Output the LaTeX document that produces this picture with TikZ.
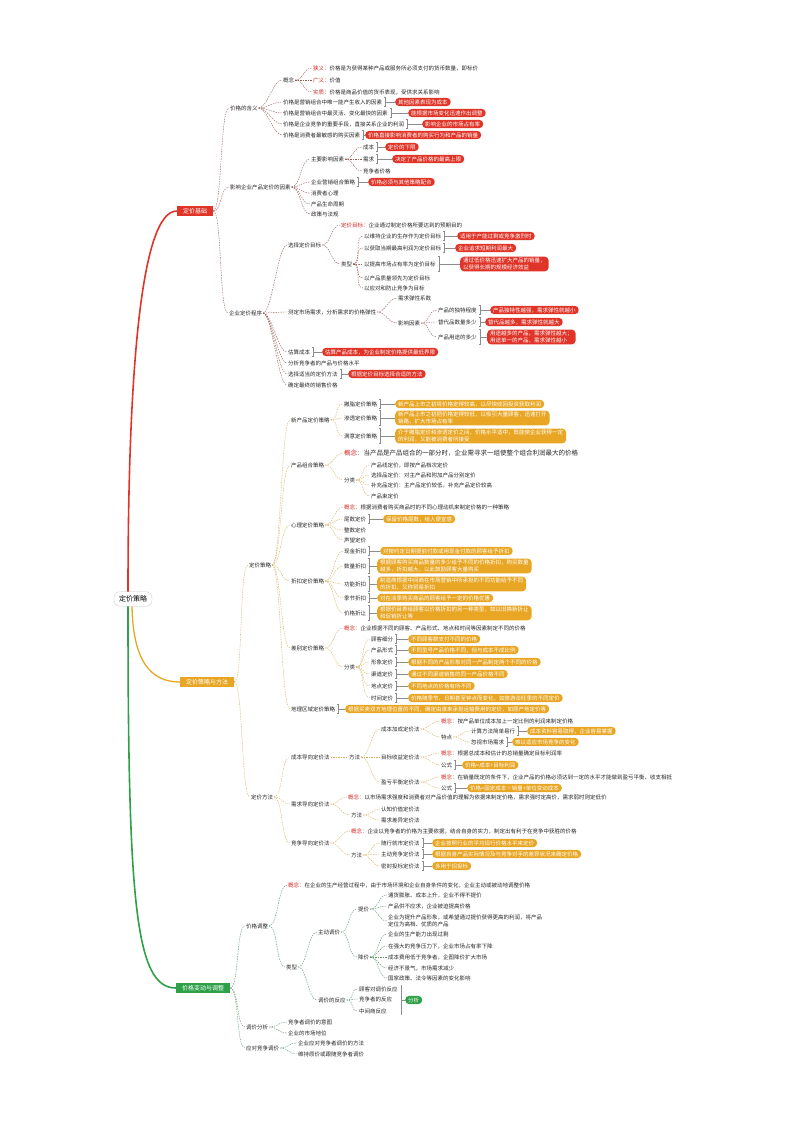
\documentclass[tikz,border=0pt]{standalone}
\usepackage{fontspec}
\setmainfont{Noto Sans CJK SC}
\usepackage{tikz}
\usetikzlibrary{arrows}
\definecolor{redc}{RGB}{224,52,40}
\definecolor{orc}{RGB}{232,166,36}
\definecolor{grc}{RGB}{46,160,72}
\definecolor{conc}{RGB}{215,35,30}
\definecolor{rline}{RGB}{150,92,82}
\definecolor{oline}{RGB}{214,176,98}
\definecolor{gline}{RGB}{96,150,108}
\newcommand{\redlab}[1]{\textcolor{conc}{#1}}

\begin{document}
\begin{tikzpicture}[x=1pt,y=-1pt,
  every node/.style={font=\fontsize{5.5}{6.4}\selectfont},
  txt/.style={anchor=west,inner sep=0.8pt,text=black!85,align=left},
  rpill/.style={anchor=west,fill=redc,text=white,rounded corners=4pt,inner xsep=3pt,inner ysep=1.6pt,align=left},
  opill/.style={rpill,fill=orc},
  gpill/.style={rpill,fill=grc},
  rootbox/.style={draw=black!20,fill=white,rounded corners=6pt,inner xsep=5pt,inner ysep=4pt,font=\fontsize{7}{8}\selectfont},
  mainbox/.style={text=white,inner xsep=6pt,inner ysep=2.5pt,font=\fontsize{6}{7}\selectfont},
  lnkr/.style={draw=rline,line width=0.4pt,dash pattern=on 1.5pt off 1pt},
  lnko/.style={lnkr,draw=oline},
  lnkg/.style={lnkr,draw=gline},
  brk/.style={draw=black!45,line width=0.35pt}]

\useasboundingbox (0,0) rectangle (794,1122);

% root and main branches
\node[rootbox] (root) at (133,599) {定价策略};
\node[mainbox,fill=redc] (jc) at (195,211) {定价基础};
\node[mainbox,fill=orc] (cl) at (207,682) {定价策略与方法};
\node[mainbox,fill=grc] (td) at (203,988) {价格变动与调整};
\draw[redc,line width=1.6pt] ([xshift=-5pt]root.north) .. controls (128,380) and (140,211) .. (jc.west);
\draw[orc,line width=1.3pt] ([xshift=-1pt]root.south) .. controls (133,660) and (150,682) .. (cl.west);
\draw[grc,line width=1.6pt] ([xshift=-5pt]root.south) .. controls (128,900) and (135,988) .. (td.west);

% red branch
\foreach \n/\x/\y/\words in {
  hy/229/108/{价格的含义}, ys/229/187/{影响企业产品定价的因素}, cx/228/313/{企业定价程序},
  hy1/282/80/{概念},
  hy11/312/68/{\redlab{狭义：}价格是为获得某种产品或服务所必须支付的货币数量，即标价},
  hy12/312/80/{\redlab{广义：}价值},
  hy13/312/92/{\redlab{实质：}价格是商品价值的货币表现，受供求关系影响},
  hy2/282/102/{价格是营销组合中唯一能产生收入的因素},
  hy3/282/113/{价格是营销组合中最灵活、变化最快的因素},
  hy4/282/124/{价格是企业竞争的重要手段，直接关系企业的利润},
  hy5/282/135/{价格是消费者最敏感的购买因素},
  ys1/310/159/{主要影响因素}, ys11/362/147/{成本}, ys12/362/159/{需求}, ys13/362/171/{竞争者价格},
  ys2/310/182/{企业营销组合策略}, ys3/310/193/{消费者心理}, ys4/310/204/{产品生命周期}, ys5/310/214/{政策与法规},
  cx1/287/245/{选择定价目标},
  cx11/340/225/{\redlab{定价目标：}企业通过制定价格所要达到的预期目的},
  cx12/340/264/{类型},
  cx121/363/236/{以维持企业的生存作为定价目标}, cx122/363/248/{以获取当期最高利润为定价目标},
  cx123/363/264/{以提高市场占有率为定价目标}, cx124/363/278/{以产品质量领先为定价目标},
  cx125/363/288/{以应对和防止竞争为目标},
  cx2/287/312/{测定市场需求，分析需求的价格弹性},
  cx21/397/298/{需求弹性系数}, cx22/397/323/{影响因素},
  cx221/437/310/{产品的独特程度}, cx222/437/322/{替代品数量多少}, cx223/437/337/{产品用途的多少},
  cx3/287/352/{估算成本}, cx4/287/363/{分析竞争者的产品与价格水平},
  cx5/287/374/{选择适当的定价方法}, cx6/287/385/{确定最终的销售价格}}
  \node[txt] (\n) at (\x,\y) {\words};

\foreach \n/\x/\y/\words in {
  hp2/395/102/{其他因素表现为成本}, hp3/408/113/{能根据市场变化迅速作出调整},
  hp4/422/124/{影响企业的市场占有率}, hp5/365/135/{价格直接影响消费者的购买行为和产品的销量},
  yp11/385/147/{定价的下限}, yp12/392/159/{决定了产品价格的最高上限}, yp2/368/182/{价格必须与其他策略配合},
  cp121/457/236/{适用于产能过剩或竞争激烈时}, cp122/455/248/{企业追求短期利润最大},
  cp123/460/264/{通过低价格迅速扩大产品的销量，\\以获得长期的规模经济效益},
  cp221/490/310/{产品独特性越强，需求弹性就越小}, cp222/485/322/{替代品越多，需求弹性就越大},
  cp223/487/337/{用途越多的产品，需求弹性越大；\\用途单一的产品，需求弹性越小},
  cp3/322/352/{估算产品成本，为企业制定价格提供最低界限}, cp5/348/374/{根据定价目标选择合适的方法}}
  \node[rpill] (\n) at (\x,\y) {\words};

\foreach \a/\b in {jc/hy, jc/ys, jc/cx, hy/hy1, hy/hy2, hy/hy3, hy/hy4, hy/hy5, hy1/hy11, hy1/hy12, hy1/hy13,
  ys/ys1, ys/ys2, ys/ys3, ys/ys4, ys/ys5, ys1/ys11, ys1/ys12, ys1/ys13,
  cx/cx1, cx/cx2, cx/cx3, cx/cx4, cx/cx5, cx/cx6, cx1/cx11, cx1/cx12,
  cx12/cx121, cx12/cx122, cx12/cx123, cx12/cx124, cx12/cx125,
  cx2/cx21, cx2/cx22, cx22/cx221, cx22/cx222, cx22/cx223}
  \draw[lnkr] (\a.east) .. controls +(9,0) and +(-9,0) .. (\b.west);

% orange branch
\foreach \n/\x/\y/\words in {
  dc/248/565/{定价策略}, ff/250/797/{定价方法},
  xp/290/420/{新产品定价策略}, xp1/343/404/{撇脂定价策略}, xp2/343/418/{渗透定价策略}, xp3/343/436/{满意定价策略},
  zh/290/465/{产品组合策略}, zh2/343/480/{分类},
  zh21/370/465/{产品线定价，即按产品档次定价}, zh22/370/475/{选择品定价：对主产品和附加产品分别定价},
  zh23/370/485/{补充品定价：主产品定价较低，补充产品定价较高}, zh24/370/496/{产品束定价},
  xl/290/525/{心理定价策略},
  xl1/343/507/{\redlab{概念：}根据消费者购买商品时的不同心理动机来制定价格的一种策略},
  xl2/343/519/{尾数定价}, xl3/343/530/{整数定价}, xl4/343/540/{声望定价},
  zk/290/581/{折扣定价策略}, zk1/343/551/{现金折扣}, zk2/343/566/{数量折扣}, zk3/343/584/{功能折扣},
  zk4/343/598/{季节折扣}, zk5/343/613/{价格折让},
  cb/290/648/{差别定价策略},
  cb1/343/628/{\redlab{概念：}企业根据不同的顾客、产品形式、地点和时间等因素制定不同的价格},
  cb2/343/667/{分类}, cb21/370/639/{顾客细分}, cb22/370/650/{产品形式}, cb23/370/662/{形象定价},
  cb24/370/674/{渠道定价}, cb25/370/686/{地点定价}, cb26/370/698/{时间定价},
  dl/290/709/{地理区域定价策略},
  cd/290/757/{成本导向定价法}, cdf/348/757/{方法}, cd1/380/729/{成本加成定价法},
  cd11/440/721/{\redlab{概念：}按产品单位成本加上一定比例的利润来制定价格},
  cd12/440/737/{特点}, cd121/470/731/{计算方法简单易行}, cd122/470/742/{忽视市场需求},
  cd2/380/757/{目标收益定价法},
  cd21/440/753/{\redlab{概念：}根据总成本和估计的总销量确定目标利润率}, cd22/440/765/{公式},
  cd3/380/782/{盈亏平衡定价法},
  cd31/440/777/{\redlab{概念：}在销量既定的条件下，企业产品的价格必须达到一定的水平才能做到盈亏平衡、收支相抵},
  cd32/440/788/{公式},
  xq/290/804/{需求导向定价法},
  xq1/347/797/{\redlab{概念：}以市场需求强度和消费者对产品价值的理解为依据来制定价格，需求强时定高价，需求弱时则定低价},
  xq2/350/815/{方法}, xq21/380/809/{认知价值定价法}, xq22/380/820/{需求差异定价法},
  jz/290/843/{竞争导向定价法},
  jz1/350/831/{\redlab{概念：}企业以竞争者的价格为主要依据，结合自身的实力，制定出有利于在竞争中获胜的价格},
  jz2/350/855/{方法}, jz21/380/843/{随行就市定价法}, jz22/380/854/{主动竞争定价法}, jz23/380/866/{密封投标定价法}}
  \node[txt] (\n) at (\x,\y) {\words};
\node[txt,font=\fontsize{6.5}{7.5}\selectfont] (zh1) at (343,453) {\redlab{概念：}当产品是产品组合的一部分时，企业需寻求一组使整个组合利润最大的价格};

\foreach \n/\x/\y/\words in {
  xpp1/395/404/{新产品上市之初将价格定得较高，以尽快收回投资获取利润},
  xpp2/395/418/{新产品上市之初把价格定得较低，以吸引大量顾客，迅速打开\\销路，扩大市场占有率},
  xpp3/395/436/{介于撇脂定价和渗透定价之间，价格水平适中，既能使企业获得一定\\的利润，又能被消费者所接受},
  xlp2/383/519/{保留价格尾数，给人便宜感},
  zkp1/380/551/{对按约定日期提前付款或用现金付款的顾客给予折扣},
  zkp2/377/566/{根据顾客购买商品数量的多少给予不同的价格折扣，购买数量\\越多，折扣越大，以此鼓励顾客大量购买},
  zkp3/377/584/{制造商根据中间商在市场营销中所承担的不同功能给予不同\\的折扣，又称贸易折扣},
  zkp4/377/598/{对在淡季购买商品的顾客给予一定的价格优惠},
  zkp5/377/613/{根据价目表给顾客以价格折扣的另一种类型，如以旧换新折让\\和促销折让等},
  cbp21/408/639/{不同顾客群支付不同的价格}, cbp22/408/650/{不同型号产品价格不同，但与成本不成比例},
  cbp23/408/662/{根据不同的产品形象对同一产品制定两个不同的价格}, cbp24/408/674/{通过不同渠道销售的同一产品价格不同},
  cbp25/408/686/{不同地点的价格有所不同}, cbp26/408/698/{价格随季节、日期甚至钟点而变化，如旅游淡旺季的不同定价},
  dlp/345/709/{根据买卖双方地理位置的不同，确定由谁来承担运输费用的定价，如原产地定价等},
  cdp121/527/731/{成本资料容易取得，企业容易掌握}, cdp122/512/742/{难以适应市场竞争的变化},
  cdp22/462/765/{价格=成本+目标利润}, cdp32/467/788/{价格=固定成本÷销量+单位变动成本},
  jzp21/432/843/{企业按照行业的平均现行价格水平来定价},
  jzp22/432/854/{根据自身产品实际情况及与竞争对手的差异状况来确定价格}, jzp23/432/866/{多用于招投标}}
  \node[opill] (\n) at (\x,\y) {\words};

\foreach \a/\b in {cl/dc, cl/ff, dc/xp, dc/zh, dc/xl, dc/zk, dc/cb, dc/dl, xp/xp1, xp/xp2, xp/xp3,
  zh/zh1, zh/zh2, zh2/zh21, zh2/zh22, zh2/zh23, zh2/zh24, xl/xl1, xl/xl2, xl/xl3, xl/xl4,
  zk/zk1, zk/zk2, zk/zk3, zk/zk4, zk/zk5, cb/cb1, cb/cb2,
  cb2/cb21, cb2/cb22, cb2/cb23, cb2/cb24, cb2/cb25, cb2/cb26,
  ff/cd, ff/xq, ff/jz, cd/cdf, cdf/cd1, cdf/cd2, cdf/cd3, cd1/cd11, cd1/cd12, cd12/cd121, cd12/cd122,
  cd2/cd21, cd2/cd22, cd3/cd31, cd3/cd32, xq/xq1, xq/xq2, xq2/xq21, xq2/xq22,
  jz/jz1, jz/jz2, jz2/jz21, jz2/jz22, jz2/jz23}
  \draw[lnko] (\a.east) .. controls +(9,0) and +(-9,0) .. (\b.west);

% green branch
\foreach \n/\x/\y/\words in {
  tz/245/926/{价格调整}, tx/245/1027/{调价分析}, ty/245/1048/{应对竞争调价},
  tz1/287/885/{\redlab{概念：}在企业的生产经营过程中，由于市场环境和企业自身条件的变化，企业主动或被动地调整价格},
  tz2/285/967/{类型}, tz21/317/932/{主动调价}, tz211/357/909/{提价},
  ti1/387/895/{通货膨胀、成本上升，企业不得不提价}, ti2/387/906/{产品供不应求，企业被迫提高价格},
  ti3/387/921/{企业为提升产品形象，或希望通过提价获得更高的利润，将产品\\定位为高档、优质的产品},
  tz212/357/957/{降价}, tj1/387/934/{企业的生产能力出现过剩}, tj2/387/946/{在强大的竞争压力下，企业市场占有率下降},
  tj3/387/957/{成本费用低于竞争者，企图降价扩大市场}, tj4/387/968/{经济不景气，市场需求减少},
  tj5/387/978/{国家政策、法令等因素的变化影响},
  tz22/317/1000/{调价的反应}, tf1/358/989/{顾客对调价反应}, tf2/358/999/{竞争者的反应}, tf3/358/1011/{中间商反应},
  tx1/287/1022/{竞争者调价的意图}, tx2/287/1033/{企业的市场地位},
  ty1/297/1043/{企业应对竞争者调价的方法}, ty2/297/1054/{维持原价或跟随竞争者调价}}
  \node[txt] (\n) at (\x,\y) {\words};
\node[gpill] (gp) at (405,1000) {分析};

\foreach \a/\b in {td/tz, td/tx, td/ty, tz/tz1, tz/tz2, tz2/tz21, tz2/tz22, tz21/tz211, tz21/tz212,
  tz211/ti1, tz211/ti2, tz211/ti3, tz212/tj1, tz212/tj2, tz212/tj3, tz212/tj4, tz212/tj5,
  tz22/tf1, tz22/tf2, tz22/tf3, tx/tx1, tx/tx2, ty/ty1, ty/ty2}
  \draw[lnkg] (\a.east) .. controls +(9,0) and +(-9,0) .. (\b.west);

% brackets in front of the pills
\foreach \a/\b in {hy2/hp2, hy3/hp3, hy4/hp4, hy5/hp5, ys11/yp11, ys12/yp12, ys2/yp2,
  cx121/cp121, cx122/cp122, cx123/cp123, cx221/cp221, cx222/cp222, cx223/cp223, cx3/cp3, cx5/cp5,
  xp1/xpp1, xp2/xpp2, xp3/xpp3, xl2/xlp2, zk1/zkp1, zk2/zkp2, zk3/zkp3, zk4/zkp4, zk5/zkp5,
  cb21/cbp21, cb22/cbp22, cb23/cbp23, cb24/cbp24, cb25/cbp25, cb26/cbp26, dl/dlp,
  cd121/cdp121, cd122/cdp122, cd22/cdp22, cd32/cdp32, jz21/jzp21, jz22/jzp22, jz23/jzp23} {
  \path (\a.east) ++(2.5,0) coordinate (bx);
  \path (bx |- \b.north) coordinate (bt) (bx |- \b.south) coordinate (bb);
  \draw[brk] ([xshift=-1.5pt]bt) -- (bt) -- (bb) -- ([xshift=-1.5pt]bb);
  \draw[brk] (bx) -- (\b.west);
}
\coordinate (gx) at (401,1000);
\draw[brk] (gx |- tf1.north) -- (gx |- tf3.south);
\draw[brk] (gx) -- (gp.west);
\end{tikzpicture}
\end{document}
